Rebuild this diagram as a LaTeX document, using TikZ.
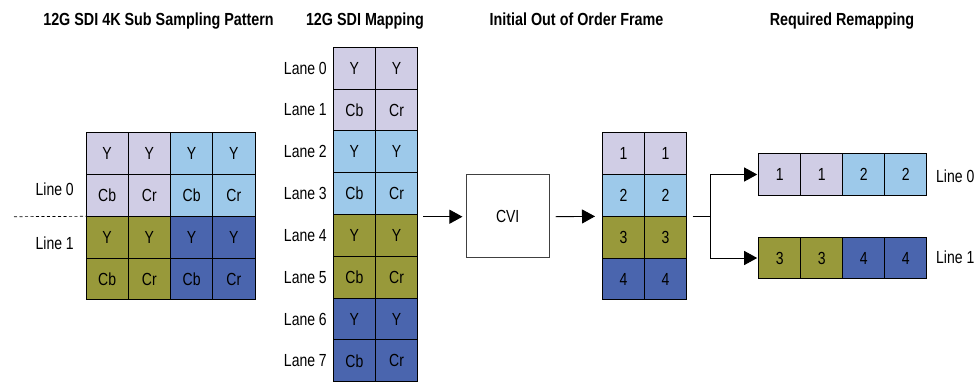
\documentclass[tikz,border=0pt]{standalone}
\usepackage{fontspec}
\setmainfont{Liberation Sans}[FakeStretch=0.8]
\newfontfamily\titlefont{Liberation Sans}[FakeStretch=0.82]
\usetikzlibrary{arrows.meta}
\definecolor{cLav}{RGB}{208,205,229}
\definecolor{cLBlue}{RGB}{157,201,234}
\definecolor{cOlive}{RGB}{152,153,58}
\definecolor{cBlue}{RGB}{74,101,174}
\tikzset{
  cell/.style={draw=black,line width=0.9pt,minimum width=42.2pt,minimum height=41.8pt,
    inner sep=0pt,outer sep=0pt,font=\fontsize{17.5}{20}\selectfont},
  title/.style={font=\titlefont\bfseries\fontsize{17.5}{20}\selectfont,anchor=base},
  lbl/.style={font=\fontsize{17.5}{20}\selectfont,inner sep=0pt},
  arr/.style={line width=0.9pt,-{Triangle[length=13pt,width=14pt]}},
  conn/.style={line width=0.9pt},
  procbox/.style={draw=black!75,line width=0.9pt,minimum width=83pt,minimum height=83pt,
    inner sep=0pt,font=\fontsize{17.5}{20}\selectfont}
}
\begin{document}
\begin{tikzpicture}[x=1pt,y=-1pt]
\useasboundingbox (0,0) rectangle (978,381);
% titles
\node[title] (t1) at (158.5,25) {12G SDI 4K Sub Sampling Pattern};
\node[title] (t2) at (365,25) {12G SDI Mapping};
\node[title] (t3) at (576.5,25) {Initial Out of Order Frame};
\node[title] (t4) at (842,25) {Required Remapping};
% left grid
\foreach \r/\a/\b/\c/\d/\fa/\fb in {0/Y/Y/Y/Y/cLav/cLBlue,1/Cb/Cr/Cb/Cr/cLav/cLBlue,2/Y/Y/Y/Y/cOlive/cBlue,3/Cb/Cr/Cb/Cr/cOlive/cBlue}{
  \node[cell,fill=\fa] (g-\r-0) at (86+42.25*0.5,132.7+41.8*\r+20.9) {\a};
  \node[cell,fill=\fa] (g-\r-1) at (86+42.25*1.5,132.7+41.8*\r+20.9) {\b};
  \node[cell,fill=\fb] (g-\r-2) at (86+42.25*2.5,132.7+41.8*\r+20.9) {\c};
  \node[cell,fill=\fb] (g-\r-3) at (86+42.25*3.5,132.7+41.8*\r+20.9) {\d};
}
\node[lbl,anchor=east] (line0) at (74,189) {Line 0};
\node[lbl,anchor=east] (line1) at (74,243) {Line 1};
\coordinate (dashstart) at (14,216.7);
\draw[dashed,line width=0.7pt,dash pattern=on 3pt off 2.5pt] (dashstart) -- (g-2-0.north west);
% lanes
\foreach \r/\a/\b/\f in {0/Y/Y/cLav,1/Cb/Cr/cLav,2/Y/Y/cLBlue,3/Cb/Cr/cLBlue,4/Y/Y/cOlive,5/Cb/Cr/cOlive,6/Y/Y/cBlue,7/Cb/Cr/cBlue}{
  \node[cell,fill=\f] (m-\r-0) at (333.3+21.1,47.3+41.8*\r+20.9) {\a};
  \node[cell,fill=\f] (m-\r-1) at (333.3+63.3,47.3+41.8*\r+20.9) {\b};
  \node[lbl,anchor=east] (lane-\r) at (327,47.3+41.8*\r+20.9) {Lane \r};
}
% CVI
\node[procbox] (cvi) at (507.7,216) {CVI};
\coordinate (a1s) at (423.3,216.7);
\draw[arr,shorten >=3.3pt] (a1s) -- (cvi.west|-a1s);
% frame
\foreach \r/\f in {0/cLav,1/cLBlue,2/cOlive,3/cBlue}{
  \pgfmathtruncatemacro{\n}{\r+1}
  \node[cell,fill=\f] (f-\r-0) at (602.3+21.1,132.7+41.8*\r+20.9) {\n};
  \node[cell,fill=\f] (f-\r-1) at (602.3+63.3,132.7+41.8*\r+20.9) {\n};
}
\coordinate (a2s) at (555.7,216.7);
\draw[arr,shorten >=7.3pt] (a2s) -- (f-2-0.north west);
% remap
\node[cell,fill=cLav] (r0-0) at (758.7+21,174.5) {1};
\node[cell,fill=cLav] (r0-1) at (758.7+63,174.5) {1};
\node[cell,fill=cLBlue] (r0-2) at (758.7+105,174.5) {2};
\node[cell,fill=cLBlue] (r0-3) at (758.7+147,174.5) {2};
\node[cell,fill=cOlive] (r1-0) at (758.7+21,258) {3};
\node[cell,fill=cOlive] (r1-1) at (758.7+63,258) {3};
\node[cell,fill=cBlue] (r1-2) at (758.7+105,258) {4};
\node[cell,fill=cBlue] (r1-3) at (758.7+147,258) {4};
\node[lbl,anchor=west] (rl0) at (936,176) {Line 0};
\node[lbl,anchor=west] (rl1) at (936,257) {Line 1};
\coordinate (a3s) at (692.7,216.7);
\coordinate (split) at (710,216.7);
\draw[conn] (a3s) -- (split);
\draw[arr,shorten >=1.4pt] (split) |- (r0-0.west);
\draw[arr,shorten >=1.4pt] (split) |- (r1-0.west);
\end{tikzpicture}
\end{document}
